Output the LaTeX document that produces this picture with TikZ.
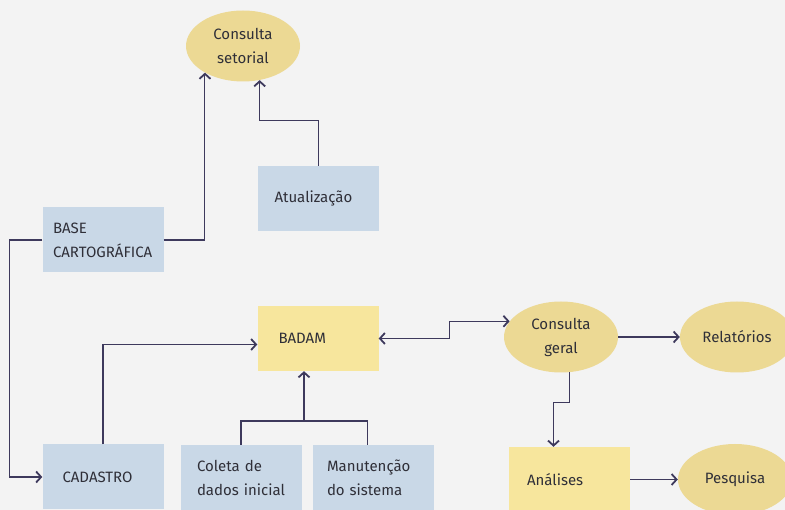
\documentclass[tikz,border=0pt]{standalone}
\usepackage{fontspec}
\setmainfont{Fira Sans}
\usetikzlibrary{shapes.geometric,arrows.meta}
\definecolor{bgray}{HTML}{F3F3F3}
\definecolor{boxblue}{HTML}{C9D8E7}
\definecolor{boxyellow}{HTML}{F7E69D}
\definecolor{ellfill}{HTML}{ECD994}
\definecolor{linecol}{HTML}{3D395C}
\definecolor{txtcol}{HTML}{2F2F38}
\tikzset{
  box/.style={rectangle, fill=boxblue, minimum width=121pt, minimum height=65pt,
    text width=88pt, inner xsep=16.5pt, align=left, text=txtcol,
    font=\fontsize{15}{24}\selectfont},
  ybox/.style={box, fill=boxyellow},
  oval/.style={ellipse, fill=ellfill, minimum width=114pt, minimum height=71pt,
    inner sep=0pt, align=center, text=txtcol, font=\fontsize{15}{24}\selectfont},
  link/.style={draw=linecol, line width=1.1pt},
  arr/.style={link, -{Straight Barb[length=5pt,width=11pt,line width=1.8pt]}},
  biarr/.style={link, {Straight Barb[length=5pt,width=11pt,line width=1.8pt]}-{Straight Barb[length=5pt,width=11pt,line width=1.8pt]}},
}
\begin{document}
\begin{tikzpicture}[x=1pt, y=-1pt]
  \clip (0,0) rectangle (785,510);
  \fill[bgray] (0,0) rectangle (785,510);

  \node[oval] (setorial) at (243,46) {Consulta\\setorial};
  \node[box] (atual) at (318.5,198.5) {Atualização};
  \node[box, text width=100pt, inner xsep=10.5pt] (base) at (103,240) {BASE\\CARTOGRÁFICA};
  \node[ybox, inner xsep=21pt, text width=79pt] (badam) at (318,338.5) {BADAM};
  \node[box, inner xsep=20pt, text width=81pt] (cadastro) at (103,477) {CADASTRO};
  \node[box] (coleta) at (241,477.5) {Coleta de\\dados inicial};
  \node[box, inner xsep=14pt, text width=93pt] (manut) at (373.5,477.5) {Manutenção\\do sistema};
  \node[oval] (geral) at (561,337) {Consulta\\geral};
  \node[oval] (rel) at (737,337) {Relatórios};
  \node[ybox, inner xsep=18pt, text width=85pt] (analises) at (569.5,479.5) {Análises};
  \node[oval] (pesquisa) at (735,479.5) {Pesquisa};

  \coordinate (merge) at (304,421);

  \draw[arr] (base.east) -| (setorial.215);
  \draw[arr] (atual.north) -- ++(0,-45) -| (setorial.296);
  \draw[arr] (base.west) -- ++(-33,0) |- (cadastro.west);
  \draw[arr] (cadastro.north) |- ([yshift=-6pt]badam.west);
  \draw[link] (coleta.north) |- (merge) -| ([xshift=-6pt]manut.north);
  \draw[arr] (merge) -- (merge |- badam.south);
  \draw[biarr] (badam.east) -- ++(71,0) |- (geral.163);
  \draw[arr] (geral.east) -- (rel.west);
  \draw[arr] (geral.284) -- ++(0,30) -| ([xshift=-16pt]analises.north);
  \draw[arr] (analises.east) -- (pesquisa.west);
\end{tikzpicture}
\end{document}
